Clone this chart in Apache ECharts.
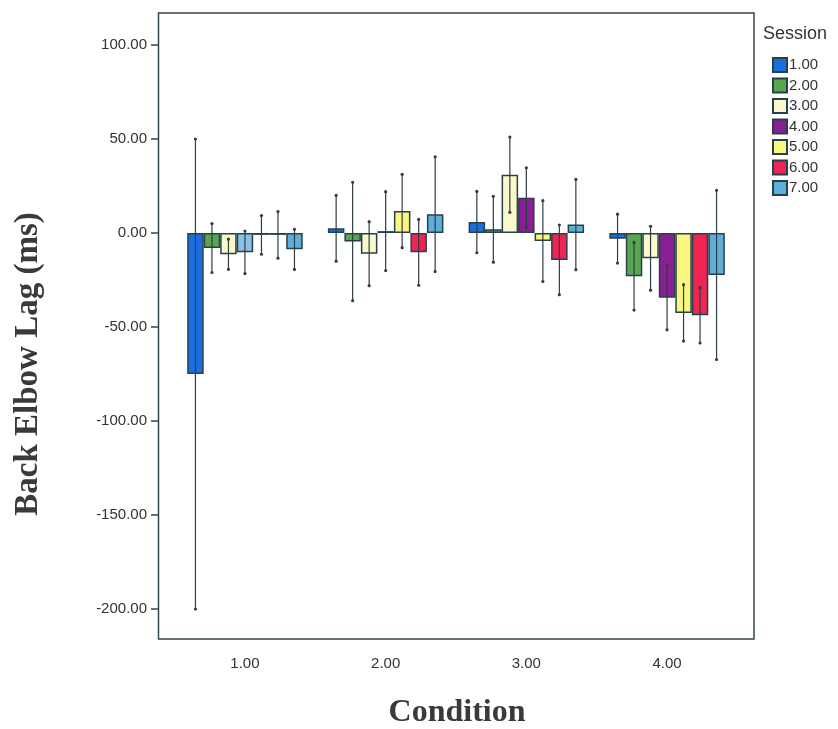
<!DOCTYPE html>
<html>
<head>
<meta charset="utf-8">
<script src="https://cdn.jsdelivr.net/npm/echarts@6/dist/echarts.min.js"></script>
<style>
  html, body { margin: 0; padding: 0; background: #fff; }
  #chart { width: 838px; height: 729px; }
</style>
</head>
<body>
<div id="chart"></div>
<script>
// categories and sessions
const conditions = ['1.00', '2.00', '3.00', '4.00']
const sessions = ['1.00', '2.00', '3.00', '4.00', '5.00', '6.00', '7.00']
const yTicks = [-200, -150, -100, -50, 0, 50, 100]

// mean lag per condition, one array per session
const s1 = [-75, 2.5, 5.8, -3]
const s2 = [-8, -4.5, 2, -23]
const s3 = [-11.3, -11, 31, -13.4]
const s4 = [-10.3, 1, 18.7, -34.5]
const s5 = [-1, 11.7, -4.3, -42.5]
const s6 = [-1, -10.3, -14.3, -43.8]
const s7 = [-8.7, 10, 4.5, -22.3]

// error bar half widths
const s1Err = [125, 17.5, 16.3, 13]
const s2Err = [13, 31.5, 17.5, 18]
const s3Err = [8, 17, 20, 17]
const s4Err = [11.3, 21, 16, 17]
const s5Err = [10.3, 19.5, 21.5, 15]
const s6Err = [12.4, 17.5, 18.5, 14.7]
const s7Err = [10.7, 30.5, 24, 45]

const means = [s1, s2, s3, s4, s5, s6, s7]
const errs = [s1Err, s2Err, s3Err, s4Err, s5Err, s6Err, s7Err]
const colors = ['#1a6fe0', '#5aa54f', '#fbf8cc', '#8a1e94', '#fbf67f', '#ee2452', '#5eaed8']

const axisColor = '#34474f'
const catGap = 0.179

function errSeries(si) {
  return {
    type: 'custom',
    name: 'err' + si,
    z: 4,
    silent: true,
    data: means[si].map((m, ci) => [ci, m - errs[si][ci], m + errs[si][ci]]),
    encode: { x: 0, y: [1, 2] },
    renderItem(params, api) {
      const lo = api.coord([api.value(0), api.value(1)])
      const hi = api.coord([api.value(0), api.value(2)])
      const band = api.size([1, 0])[0]
      const bw = band * (1 - catGap) / sessions.length
      const x = lo[0] + (si - 3) * bw
      const st = { stroke: '#2f3d44', lineWidth: 1.2 }
      return {
        type: 'group',
        children: [
          { type: 'line', shape: { x1: x, y1: lo[1], x2: x, y2: hi[1] }, style: st },
          { type: 'circle', shape: { cx: x, cy: lo[1], r: 1.6 }, style: { fill: '#2f3d44' } },
          { type: 'circle', shape: { cx: x, cy: hi[1], r: 1.6 }, style: { fill: '#2f3d44' } }
        ]
      }
    }
  }
}

const barSeries = sessions.map((name, si) => ({
  name,
  type: 'bar',
  barGap: '0%',
  barCategoryGap: (catGap * 100) + '%',
  data: means[si].map((v, ci) => {
    // session 4 under condition 1 prints light blue in the figure
    if (si === 3 && ci === 0) return { value: v, itemStyle: { color: '#8cbfe8' } }
    return v
  }),
  itemStyle: { color: colors[si], borderColor: '#27414a', borderWidth: 1.5 }
}))

const chart = echarts.init(document.getElementById('chart'))
chart.setOption({
  animation: false,
  textStyle: { fontFamily: 'Liberation Sans, Arial, sans-serif' },
  title: {
    text: 'Session',
    left: 763,
    top: 25,
    padding: 0,
    textStyle: { fontSize: 18, fontWeight: 'normal', color: '#333' }
  },
  legend: {
    data: sessions,
    orient: 'vertical',
    left: 772,
    top: 57,
    padding: 0,
    itemWidth: 14,
    itemHeight: 14,
    itemGap: 4.5,
    icon: 'rect',
    textStyle: { fontSize: 15, lineHeight: 14, color: '#333', padding: [0, 0, 0, -3] }
  },
  grid: { left: 174.6, right: 100.6, top: 45, bottom: 120 },
  xAxis: {
    type: 'category',
    data: conditions,
    offset: 30,
    axisLine: { show: false },
    axisTick: { alignWithLabel: true, length: 6, lineStyle: { color: axisColor, width: 1.5 } },
    axisLabel: { color: '#333', fontSize: 15, margin: 17 }
  },
  yAxis: {
    type: 'value',
    min: yTicks[0],
    max: yTicks[yTicks.length - 1],
    interval: 50,
    offset: 15.6,
    splitLine: { show: false },
    axisLine: { show: false },
    axisTick: { show: true, length: 8, lineStyle: { color: axisColor, width: 1.5 } },
    axisLabel: { color: '#333', fontSize: 15, margin: 12, formatter: v => v.toFixed(2) }
  },
  graphic: [
    {
      type: 'rect',
      shape: { x: 158.5, y: 13, width: 595.5, height: 626 },
      style: { fill: 'none', stroke: axisColor, lineWidth: 1.5 },
      silent: true
    },
    {
      type: 'text',
      x: 28, y: 364,
      rotation: Math.PI / 2,
      style: {
        text: 'Back Elbow Lag (ms)',
        font: 'bold 33px "Liberation Serif", serif',
        fill: '#3a3a3a',
        align: 'center',
        verticalAlign: 'middle'
      }
    },
    {
      type: 'text',
      x: 457, y: 713,
      style: {
        text: 'Condition',
        font: 'bold 32px "Liberation Serif", serif',
        fill: '#3a3a3a',
        align: 'center',
        verticalAlign: 'middle'
      }
    }
  ],
  series: [...barSeries, ...sessions.map((_, si) => errSeries(si))]
})
</script>
</body>
</html>
